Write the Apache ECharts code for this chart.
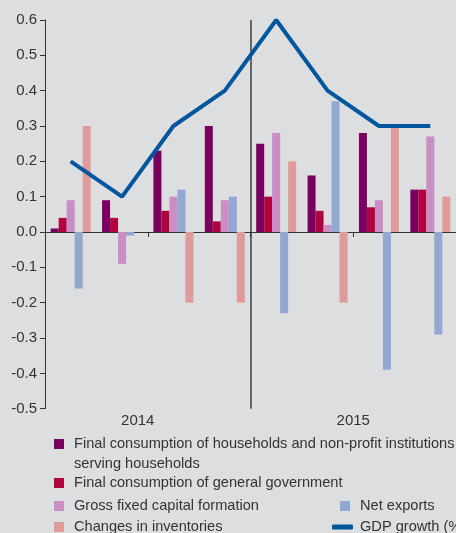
<!DOCTYPE html>
<html>
<head>
<meta charset="utf-8">
<script src="https://cdn.jsdelivr.net/npm/echarts@6/dist/echarts.min.js"></script>
<style>
html,body{margin:0;padding:0;background:#dddee0;}
#chart{width:456px;height:533px;}
</style>
</head>
<body>
<div id="chart"></div>
<script>
const quarters = ['2014Q1','2014Q2','2014Q3','2014Q4','2015Q1','2015Q2','2015Q3','2015Q4'];
const years = ['2014','2015'];
const households = [0.01, 0.09, 0.23, 0.30, 0.25, 0.16, 0.28, 0.12];
const government = [0.04, 0.04, 0.06, 0.03, 0.10, 0.06, 0.07, 0.12];
const capitalFormation = [0.09, -0.09, 0.10, 0.09, 0.28, 0.02, 0.09, 0.27];
const netExports = [-0.16, -0.01, 0.12, 0.10, -0.23, 0.37, -0.39, -0.29];
const inventories = [0.30, 0, -0.20, -0.20, 0.20, -0.20, 0.30, 0.10];
const gdpGrowth = [0.2, 0.1, 0.3, 0.4, 0.6, 0.4, 0.3, 0.3];

const names = {
  h: 'Final consumption of households and non-profit institutions serving households',
  g: 'Final consumption of general government',
  c: 'Gross fixed capital formation',
  n: 'Net exports',
  i: 'Changes in inventories',
  gdp: 'GDP growth (%)'
};
const FONT = 'Liberation Sans';
const txt = {color:'#333', fontSize:14.6, fontFamily:FONT, lineHeight:20};

const chart = echarts.init(document.getElementById('chart'));
function bar(name, data, color){
  return {name, type:'bar', data, barWidth:8, barGap:'0%', itemStyle:{color}, animation:false};
}
function sq(name, left, top){
  return {data:[name], left, top, padding:0, itemWidth:10, itemHeight:10, icon:'rect', selectedMode:false,
          textStyle:Object.assign({}, txt, {padding:[0,0,0,5]})};
}
chart.setOption({
  backgroundColor:'#dddee0',
  animation:false,
  grid:{left:45, right:0, top:20, bottom:124.3, containLabel:false},
  xAxis:[{
    type:'category', data:quarters,
    axisLine:{lineStyle:{color:'#333', width:1}},
    axisTick:{show:true, length:5, lineStyle:{color:'#333'}},
    axisLabel:{show:false}
  },{
    type:'category', data:years, position:'bottom',
    axisLine:{show:false, onZero:false}, axisTick:{show:false},
    axisLabel:{color:'#333', fontSize:15, fontFamily:FONT, margin:5,
      formatter:v=> v==='2014' ? '{l|'+v+'}' : v,
      rich:{l:{color:'#333', fontSize:15, fontFamily:FONT, padding:[0,20,0,0]}}},
    splitLine:{show:false}
  },{
    type:'value', min:0, max:quarters.length, interval:quarters.length/2, position:'bottom',
    axisLine:{show:false, onZero:false}, axisTick:{show:false}, axisLabel:{show:false},
    splitLine:{show:true, showMinLine:false, showMaxLine:false, lineStyle:{color:'#666', width:2}}
  }],
  yAxis:{
    type:'value', min:-0.5, max:0.6, interval:0.1,
    axisLine:{show:true, lineStyle:{color:'#333'}},
    axisTick:{show:true, length:5, lineStyle:{color:'#333'}},
    splitLine:{show:false},
    axisLabel:{color:'#333', fontSize:15, fontFamily:FONT, margin:8, formatter:v=>v.toFixed(1)}
  },
  legend:[
    {data:[names.h], left:54, top:434, padding:0, itemWidth:10, itemHeight:30, selectedMode:false,
     icon:'path://M0,0L10,0L10,10L0,10Z M0,30L0.01,30',
     formatter:n=>n.replace(' serving','\nserving'),
     textStyle:Object.assign({}, txt, {padding:[0,0,0,5]})},
    sq(names.g, 54, 473),
    sq(names.c, 54, 496),
    sq(names.i, 54, 517),
    sq(names.n, 340, 496),
    {data:[names.gdp], left:332, top:517, padding:0, itemWidth:21, itemHeight:5, icon:'roundRect', selectedMode:false,
     textStyle:Object.assign({}, txt, {padding:[0,0,0,2]})}
  ],
  series:[
    bar(names.h, households, '#7a0060'),
    bar(names.g, government, '#b0043f'),
    bar(names.c, capitalFormation, '#c98ec4'),
    bar(names.n, netExports, '#93a7d3'),
    bar(names.i, inventories, '#df9a9b'),
    {name:names.gdp, type:'line', data:gdpGrowth, showSymbol:false, symbol:'none',
     lineStyle:{color:'#00569c', width:4}, itemStyle:{color:'#00569c'}, z:5}
  ]
});
</script>
</body>
</html>
